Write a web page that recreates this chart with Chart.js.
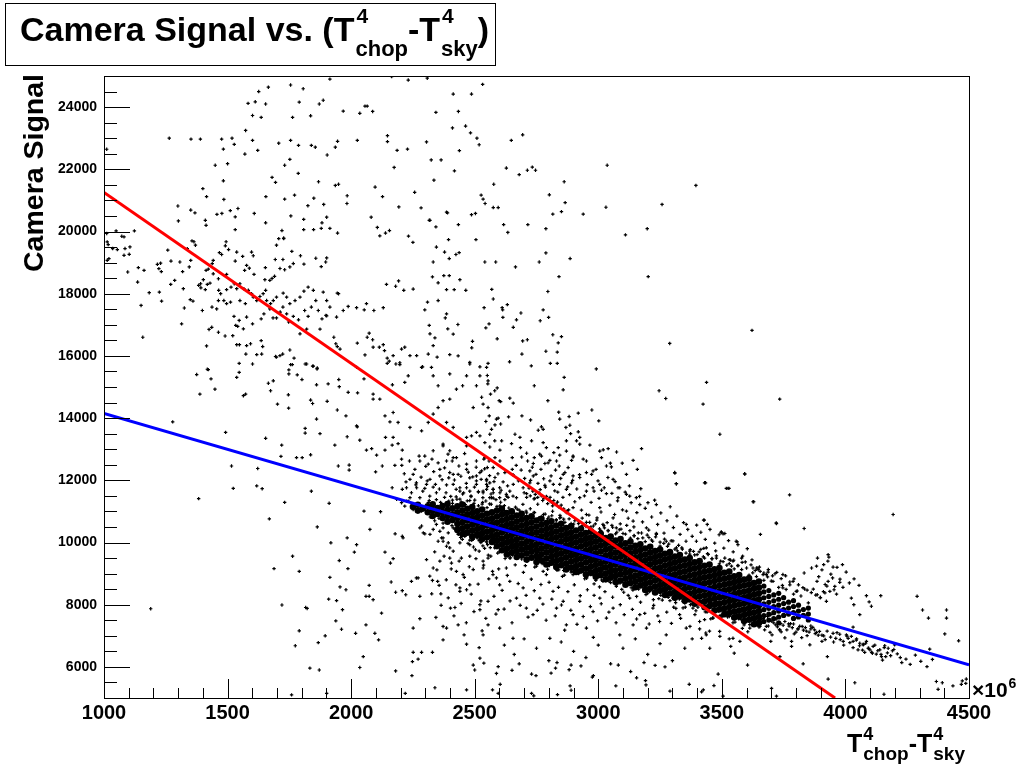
<!DOCTYPE html>
<html><head><meta charset="utf-8">
<script src="https://cdn.jsdelivr.net/npm/chart.js@4.4.1/dist/chart.umd.min.js"></script>
<style>html,body{margin:0;padding:0;background:#fff;}canvas{display:block;}</style>
</head><body>
<canvas id="c" width="1021" height="769" style="width:1021px;height:769px"></canvas>
<script>
// ---- axes ----
const xTicks = [1000,1500,2000,2500,3000,3500,4000,4500];
const yTicks = [6000,8000,10000,12000,14000,16000,18000,20000,22000,24000];
const xMinorStep = 100, yMinorStep = 500;
// ---- fits ----
const redFitX = [1000, 3958], redFitY = [21258, 5000];
const blueFitX = [1000, 4500], blueFitY = [14148, 6065];
// ---- scatter points (x, camera signal) ----
const leftEdgePts = [[1011,19935],[1049,20019],[1072,19848],[1081,19826],[1123,20019],[1013,19665],[1017,19580],[1035,19451],[1054,19419],[1085,19451],[1105,19503],[1081,19235],[1102,19267],[1013,19074],[1020,19129],[1096,18697],[1139,18838],[1162,18751],[1216,18945],[1222,18806],[1136,18374],[1183,18032],[1224,18051],[1150,17622],[1157,16600],[1011,22645],[1189,7870]];
const upperPts = [[1665,24640],[1755,24710],[1806,24590],[1626,24500],[1914,24900],[2164,24980],[2231,24870],[2308,24930],[2532,24730],[2413,24420],[2487,24420],[1583,24120],[1612,24170],[1654,24100],[1790,24160],[1871,24100],[1887,24220],[1601,23730],[1636,23670],[1763,23670],[1836,23720],[1968,23870],[2035,23800],[2056,24030],[2065,24030],[2087,23860],[2343,23830],[2434,23860],
[1573,23250],[1264,23000],[1352,22970],[1390,22970],[1476,22970],[1518,23000],[1527,22800],[1601,22930],[1622,22610],[1570,22490],[1483,22650],[1707,22840],[1755,22930],[1787,22770],[1839,22770],[1855,22710],[1903,22460],[1936,22710],[1945,22900],[2025,22930],[2147,23080],[2147,22890],[2186,22610],[2228,22650],[2305,22880],[2410,23330],[2463,23390],[2483,23170],[2509,23000],[2518,22790],[2438,22600],[2324,22300],[2364,22300],[2418,21950],[2335,21650],[2174,22060],[2257,21260],
[1752,22320],[1731,22130],[1680,21740],[1694,21580],[1786,21870],[1450,22130],[1500,22180],[1400,21380],[1415,21120],[1483,21630],[1485,21030],[1655,21120],[1731,21040],[1771,21170],[1868,21600],[1849,21070],[1936,21480],[1949,21520],[1984,21150],[1983,20900],[2097,21430],[2127,21120],[2193,20790],[2283,20760],[2316,20360],[2343,20150],[2386,20620],[2390,20600],[2434,20220],[2487,20540],[2503,20580],[2526,21170],[2534,21040],[2542,20900],[2577,21520],[2575,20770],[2595,20770],[2505,19740],[2541,19020],[2585,19020]];
const midLeftPts = [[1299,20820],[1301,20340],[1351,20690],[1368,20600],[1410,20360],[1413,20200],[1457,20550],[1477,20580],[1511,20670],[1542,20740],[1531,20470],[1531,20060],[1608,20580],[1654,20280],[1720,20030],[1727,19770],[1808,20060],[1848,20060],[1879,20100],[1914,20100],[1945,19950],[1901,20460],[1882,20280],[1808,20390],[1756,20500],[1825,20830],[1889,20870],[2081,20460],[2106,20130],[2116,19860],[2139,19950],[2155,20030],[2232,19850],[2250,19650],[2319,20360],[2345,19500],[2394,19740],[2437,19320],[2424,19260],[2378,19340],[2332,19020],[2397,19130],[2329,18540],[2352,18350],[2375,18580],[2397,18580],[2440,18450],[2386,18130],[2417,18130],[2464,18110],[2569,18140],[2575,17830],[2538,17550],[2558,17030],[2545,16900],[2591,16550],[2491,16470],[2488,16260],[2480,15740],[2521,15650],[2554,15760]];
const leftCloudPts = [[1233,17760],[1229,18980],[1232,18710],[1270,18300],[1286,18430],[1271,19050],[1307,19020],[1258,19400],[1318,18710],[1314,17030],[1325,17540],[1345,18860],[1351,19070],[1356,19700],[1364,19670],[1370,19560],[1337,19450],[1349,17810],[1321,18160],[1391,18320],[1392,18190],[1402,18450],[1410,18130],[1383,18270],[1418,18300],[1429,18340],[1413,18750],[1422,18790],[1442,19070],[1438,18970],[1467,19320],[1476,19260],[1494,19670],[1491,19540],[1504,19420],[1531,19050],[1537,19340],[1561,19200],[1577,18910],[1597,19340],[1604,19220],[1569,18750],[1588,18820],[1607,18620],[1653,18840],[1651,18450],[1671,18430],[1680,18490],[1690,18560],[1712,18810],[1731,18770],[1752,18860],[1766,18970],[1724,19100],[1693,19100],[1698,19560],[1707,19770],[1727,19790],[1760,19360],[1795,19220],[1809,18950],[1857,19140],[1879,18870],[1897,19020],[1901,19150],
[1442,18640],[1463,18480],[1496,18620],[1464,18110],[1496,18130],[1514,18210],[1527,18320],[1537,18160],[1550,18320],[1566,18160],[1584,18110],[1597,18000],[1604,17890],[1618,17780],[1631,17910],[1644,18000],[1654,18110],[1658,17780],[1674,17680],[1685,17780],[1698,17890],[1725,18020],[1739,17890],[1752,17680],[1773,17780],[1793,17890],[1809,18080],[1826,18210],[1847,18110],[1857,17780],[1887,18050],[1901,17780],[1944,18020],[1949,18000],
[1360,17760],[1398,17460],[1437,17570],[1456,17510],[1463,17780],[1472,18000],[1485,17780],[1496,17680],[1512,17730],[1550,17780],[1572,17680],[1577,17250],[1547,17140],[1526,17270],[1533,16980],[1541,16950],[1564,16870],[1601,17030],[1636,17190],[1647,17350],[1671,17510],[1684,17220],[1698,17220],[1713,17410],[1724,17570],[1739,17350],[1747,17090],[1766,17270],[1787,17160],[1812,17460],[1826,17270],[1839,17570],[1867,17460],[1882,17190],[1898,17300],[1914,17570],[1941,17250],[1968,17460],[1988,17590],[2022,17550],[2053,17480],[2062,17680],[2092,17460],[2130,17550],[2143,18300],[2180,18240],[2192,18410],[2213,18110],[2251,18150],[2298,17480],[2309,17730],[2352,17780],[2386,17350],[2381,17220],[2391,16870],[2316,16980],[2319,16710],[2339,16580],[2413,16700],[2432,17010],
[1415,16320],[1425,16850],[1436,16920],[1463,16760],[1490,16640],[1521,16650],[1537,16360],[1548,16360],[1577,16330],[1593,16390],[1574,16060],[1618,16040],[1638,16060],[1636,16490],[1642,16300],[1694,15980],[1712,16010],[1723,16060],[1752,16190],[1769,15930],[1793,16710],[1820,16860],[1874,16860],[1901,17290],[1930,16600],[1938,16390],[1944,16300],[1955,16220],[2025,16410],[2056,16030],[2065,16600],[2073,16730],[2087,16520],[2089,16280],[2114,16280],[2130,16360],[2135,16170],[2146,15930],[2170,16010],[2181,15740],[2197,15720],[2204,16220],[2217,16280],[2238,16010],[2265,16010],[2289,15650],[2312,16060],[2332,16330],[2348,15960],[2399,16040],[2433,16000],[2480,15790],[1601,15740],[1547,15760],[1418,15570],[1698,15960],[1755,15720],[1814,15740],[1847,15670],[1863,15610],[2022,15630],[2146,15760],[2154,15830],[2197,15780],[2325,15630]];
const upperRightPts = [[2648,22930],[2694,23110],[2628,22040],[2680,21830],[2713,21970],[2733,22070],[2746,21970],[3036,22130],[2862,21600],[3395,21480],[2802,21180],[2866,20930],[2816,20560],[2851,20640],[2939,20560],[3031,20780],[3258,20870],[2617,20220],[2715,20220],[2634,19970],[2788,20090],[3110,19890],[3198,20090],[2788,19310],[2761,19020],[2886,19130],[2665,18860],[2841,18550],[3202,18550],[2796,18070],[2632,17650],[2611,17550],[2613,17480],[2614,17240],[2687,17380],[2669,17160],[2656,16920],[2777,17480],[2765,17130],[2799,17240],[2816,16680],[2851,16620],[2838,16420],[2694,16480],[2713,16520],[2691,16060],[2788,16150],[2834,16120],[2641,15810],[2729,15680],[2806,15760],[2834,15760],[2992,15580],[3622,16820],[3289,16400]];
const midPts = [[2551,15370],[2591,14970],[2553,15100],[2564,14770],[2642,14640],[2656,14480],[2599,14560],[2605,14530],[2528,14670],[2534,14450],[2741,15040],[2858,14910],[2862,15310],[2796,14560],[2840,14190],[2844,13970],[2882,14050],[2919,14160],[2974,14260],[3002,13910],[2691,14070],[2726,13940],[2637,14040],[2595,14000],[2559,14070],[2545,13890],[2582,13780],[2605,13810],[2568,13640],[2770,13720],[2777,13640],[2757,13610],[2885,13770],[2869,13700],[2888,13500],[2919,13560],[2925,13380],[2912,13270],[2871,13270],[2966,13130],[3020,12980],[3040,13020],[3074,12910],[3175,13020],[3013,12730],[2991,12350],[3141,12640],[3097,12550],[3049,12550],[3053,12430],[3039,12090],[3068,11960],[3114,12190],[3158,12350],[3126,11820],[3172,11730],[3080,11760],[3114,11550],[3154,11440],[3310,12230],[3316,11890],[3434,11920],[3518,11740],[3529,11740],[3593,12200],[3734,14610],[3438,15150],[3246,14880],[3273,14630],[3424,14450],[3492,13480],[2838,13050],[2820,12890],[2844,12810],[2898,12750],[2892,12640],[2939,12680],[2804,12640],[2784,12540],[2737,12540],[2723,12300],[2690,12750],[2710,12870],[2770,12780],[2741,12730],[2652,12730],[2652,12350],[2602,12620],[2582,12730],[2622,12250],[2582,12090],[2561,11920],[2842,12460],[2878,12410],[2858,12190],[2898,12140],[2925,12090],[2892,11920],[2871,11710],[2844,11870],[2952,12250],[2973,12190],[2999,11980],[2979,11760],[3013,11680],[3033,11570],[3080,11440],[2804,11980],[2784,11840],[2824,11660],[2737,12140],[2723,11920],[2696,11760],[2656,11870],[2683,13380],[2649,13180],[2609,13270],[2561,13070],[2541,13210],[2663,13480],[2730,13270],[2777,13210],[2685,13050],[2602,12970],[2537,12680],[2551,12410],[2528,12300],[2548,11980],[2575,11710],[2602,11600],[2629,11490],[2669,11440],[2710,11570],[2743,11420],[2534,11600],[2568,11440]];
const lowerLeftPts = [[1375,15400],[1422,15560],[1433,15260],[1449,14930],[1388,14770],[1537,15310],[1547,15470],[1573,14770],[1564,14720],[1665,15120],[1685,15200],[1674,14880],[1702,14450],[1762,15720],[1748,15550],[1748,15420],[1782,15390],[1801,15240],[1820,15740],[1844,15670],[1862,15580],[1860,15070],[1907,15100],[1950,15240],[1952,15010],[1988,14830],[2026,14810],[1746,14750],[1747,14320],[1836,14580],[1844,14470],[1903,14540],[1944,14260],[1979,14070],[2022,13750],[2025,13720],[1860,13970],[1814,13670],[1814,13520],[1874,13500],[1984,13400],[2035,13290],[1934,13130],[2062,12970],[2083,13020],[2103,12810],[2137,12970],[2166,13130],[2190,13180],[2207,12970],[2139,13380],[2170,13380],[2126,12460],[2099,12270],[2177,12480],[2204,12680],[2052,15260],[2089,14610],[2116,14610],[2137,14070],[2157,13880],[2170,14180],[2190,13860],[2238,13700],[2285,13590],[2312,13860],[2332,14130],[2352,14340],[2372,14560],[2399,14610],[2426,14930],[2451,15040],[2467,15360],[2521,15360],[2548,15630],[2507,15040],[2554,15200],[2581,14880],[2285,15630],[2231,15360],[2217,15150],[2167,15070],[2089,14770],[2332,15360],[2399,15420],[2352,15040],[2386,13860],[2413,13700],[2467,13380],[2487,13430],[2507,13540],[2467,13110],[2399,12950],[2372,13160],[2332,12950],[2298,12780],[2278,12620],[2312,12520],[2386,12620],[2426,12730],[2467,12520],[2507,12620],[2541,12730],[2575,12410],[2507,12140],[2548,12030],[2413,12190],[2359,12140],[2319,12030],[2251,12190],[2238,12030],[2224,11760],[2265,11760],[2298,11740],[2332,11780],[2386,11850],[2440,11760],[2480,11650],[2507,11870],[2548,11710],[2575,11600],[2521,13430],[2561,13480],[2494,14340],[2554,14340],[2588,13970],[2581,13270],[2558,12620],
[1278,13880],[1492,13540],[1516,12460],[1523,11740],[1383,11410],[1618,11820],[1640,11730],[1622,12380],[1654,13350],[1719,13130],[1716,12770],[1779,12730],[1802,12730],[1836,12820],[1948,12460],[1992,12490],[1992,12330],[1839,11650],[1911,11260],[1731,11290],[1669,10760],[1863,10500],[1918,9990],[1984,10150],[2022,9930],[2013,9690],[1763,9560],[1688,9160],[1790,9070],[1952,9420],[1987,9160],[1914,8880],[1955,8570],[1979,8480],[1909,8180],[1941,8130],[1720,7990],[1816,7910],[1822,7880],[2052,11010],[2076,10420],[2119,10990],[2166,11760],[2207,11710],[2238,11440],[2178,10280],[2207,10200],[2137,9690],[2159,9340],[2170,9480],[2073,8620],[2060,8270],[2089,8160],[2162,8730],[2180,8400],[2207,8450],[2221,8320],[2244,8750],[2271,8860],[2329,8780],[2350,8750],[2363,8350],[2402,7890],[2420,7910],[2440,8430],[2467,8480],[2521,7840],[2554,8110],[2595,7840],[2554,7350],[2530,7160],[2278,7550],[2343,7590],[2372,7300],[2386,7250],[2433,7350],[2457,7030],[2467,6730],[2518,6620],[2521,6280],[2494,6060],[2500,5900],[2595,6010],[2588,5790],[2285,6470],[2329,6470],[2251,6470],[2271,6250],[2248,6170],[2246,5720],[2180,5870],[2049,6330],[2035,5980],[1965,7840],[1938,7480],[1961,7210],[2018,7080],[2060,7350],[2096,7080],[2111,6870],[2123,7730],[2073,8270],[1895,7000],[1867,6780],[1790,7160],[1774,6680],[1833,5960],[1871,5900],[2339,5330],[2467,5260],[2572,5260],[2595,5150],[1901,5150],[1759,5100],[2219,5150],[2359,9400],[2406,9340],[2426,9070],[2453,8970],[2494,9130],[2534,9180],[2572,9070],[2588,8860],[2413,9720],[2446,9500],[2480,9560],[2518,9720],[2554,9500],[2352,10040],[2372,10150],[2386,9880],[2440,9990],[2460,10200],[2480,9930],[2521,10100],[2552,9930],[2581,9830],[2332,10420],[2285,10530],[2298,10280],[2319,10260],
[2184,11390],[2204,11280],[2217,11170],[2231,11330],[2251,11060],[2271,11220],[2285,11010],[2298,11120],[2312,11280],[2325,11170],[2278,10470],[2292,10310],[2345,10580],[2359,10360],[2372,10470],[2393,10310],[2413,10470],[2433,10260],[2453,10420],[2473,10260],[2494,10100],[2521,10200],[2548,10040],[2575,10150],[2366,10150],[2393,9990],[2399,9830]];
const centralPts = [[2372,13110],[2392,12840],[2413,12730],[2359,12350],[2399,12250],[2433,12190],[2467,12350],[2480,12080],[2507,11980],[2521,12250],[2548,11870],[2574,11710],[2601,11760],[2628,11550],[2642,11650],[2655,11490],[2601,11440],[2561,11440],[2534,11650],[2467,11760],[2440,11650],[2413,11870],[2305,11870],[2264,11920],[2278,11440],[2318,11490],[2345,11600],[2224,11330],
[2763,12840],[2790,13050],[2831,12620],[2871,12940],[2898,12780],[2925,13160],[2952,12620],[2979,12300],[3006,12940],[3033,12460],[3060,12030],[3087,11760],[3127,11490],[3168,11220],[3201,11280],[3235,11220],[3006,11870],[2952,11650],[2925,11440],[2898,11120],[2871,10960],[2844,10790],[2952,10900],[3006,11120],[3060,10790],[3114,11010],[3141,10690],[3195,10470],[3235,10260],[3073,10470],[3019,10580],[3309,12250],[3316,11890],[3430,11920],[3525,11740],[3592,12210],[3626,11310],[3720,10630],[3774,11530],[3558,10040],[3498,10340],[3505,10280],[3426,10720],[3356,10580],[3397,10040],[3478,9500],[3275,10040],[3316,9830],[3370,9720],[3437,9830],[3545,9400],[3626,9180],[3646,9180],[3680,8970],[3747,8540],[3801,8430],[3747,8970],[3707,8750],[3788,8750],
[2720,11750],[2735,11650],[2745,11550],[2760,11600],[2770,11500],[2780,11420],[2790,11480],[2800,11380],[2810,11300],[2820,11350],[2830,11230],[2840,11150],[2850,11200],[2860,11080],[2870,11000],[2880,11050],[2755,11450],[2775,11350],[2795,11250],[2815,11180],[2740,11400],[2725,11500],[2765,11700],[2805,11450],[2835,11300],[2700,11600],[2710,11450]];
const lowerPts = [[2210,10150],[2264,8860],[2332,9180],[2372,10040],[2399,9500],[2440,8540],[2480,8640],[2534,9400],[2574,8970],[2251,7250],[2372,6870],[2278,8270],[2534,7030],[2521,8000],
[2601,8640],[2628,9180],[2642,8750],[2669,8210],[2696,8540],[2709,7890],[2736,7680],[2763,8210],[2790,8970],[2817,8430],[2831,7890],[2858,8110],[2871,7350],[2898,7680],[2925,8110],[2952,7250],[2979,7780],[3006,8210],[3033,7570],[3060,7890],[3087,7030],[3127,8210],[3141,7350],[3168,7680],[3195,7250],[3221,7890],[3248,7460],[3275,7030],[3302,8210],[3329,7680],[3356,7250],[3383,7890],[3410,7460],[3437,7030],[3464,7570],[3491,7140],[3518,7680],[3545,6920],[2601,7250],[2655,6920],[2804,6920],
[2628,9720],[2669,9560],[2709,9400],[2750,9240],[2777,9070],[2831,9180],[2898,8970],[2952,8860],[3019,8750],[3073,8640],[3141,8540],[3208,8430],[3275,8320],[3343,8110],[2642,9500],
[2620,6700],[2660,6400],[2700,6900],[2750,6600],[2800,6200],[2850,6800],[2900,6500],[2950,6300],[3000,6700],[3050,6100],[3100,6600],[3150,6900],[3200,6400],[3250,6750],[3300,6200],[3350,6600],[3380,6900],[2680,6100],[2980,6950],[3230,6050],
[2800,9300],[2830,9200],[2860,9100],[2890,9050],[2920,9000],[2850,9350],[2815,9420],[2870,9250],[2900,9180],[2940,9100],[2780,9400],[2760,9500]];
const rightPts = [[3629,11310],[4193,10900],[3429,10720],[3441,10580],[3497,10320],[3512,10290],[3721,10610],[3833,10450],[3656,10260],[3562,10020],[3427,9810],[3580,9500],[3539,9240],[3530,9450],[3640,9180],[3647,9130],[3687,9050],[3667,8970],[3833,9020],[3863,9180],[3883,9240],[3887,9500],[3930,9610],[3933,9530],[3912,9290],[3950,9210],[3988,9290],[3930,8750],[3948,8860],[3977,8720],[3957,8590],[3937,8430],[3964,8340],[3917,8380],[3923,8110],[3886,8320],[4035,8830],[4055,8620],[4024,8210],[4034,8000],[4085,8290],[4096,8090],[4105,7950],[4143,8290],[4058,7680],[4031,7280],[4290,8270],[4312,7830],[4336,7570],[4409,7830],[4409,7570],[4402,7060],[4458,6840],[4341,6570],[4228,6140],[4199,6710],[4159,6680],[4146,6330],[4163,6330],[4150,6220],[4109,6440],[4092,6600],[4072,6710],[4058,6760],[4085,6820],[4045,6900],[4024,6980],[4004,7030],[3977,7050],[3961,6920],[3991,6820],[3927,6330],[3829,6100],[3930,5610],[4038,5490],[4156,5120],[3721,5060],[3701,5310],[3604,6060],[3485,5770],[3468,5400],[3505,5060],[3418,5200],[4368,5530],[4392,5490],[4375,5280],[4435,5390],[4473,5550],[4489,5610],[4487,5470],[4469,5440],[3698,6820],[3782,6660],[3782,6820],[3735,6330],[3856,6710],[3550,6440],[3573,6820],[3536,6660],[3451,6600],[3435,7090],[3418,6920],[3492,6980],[3530,6900],[3698,7680],[3613,7250],[3654,7300],[3735,7190],[3950,7080],[4011,6920],[4031,6820],[4072,6730],[4099,6550],[4112,6660],[4139,6550],[4173,6600],[4190,6520],[4125,6410],[4078,6470],[4051,6550],
[3905,7020],[3918,6880],[3926,7150],[3940,6960],[3952,6800],[3966,7100],[3979,6880],[3993,6700],[4006,6990],[4018,6780],[4031,6620],[4044,6860],[4057,6680],[4069,6540],[4082,6760],[4094,6600],[4106,6470],[4119,6700],[4131,6520],[4144,6400],[4157,6620],[4170,6450],[4183,6360],[4196,6560],[4210,6420],[4222,6300],[3892,8900],[3905,9120],[3918,8650],[3929,9400],[3941,8980],[3954,8480],[3966,9200],[3978,8820],[3990,8560],[4003,9050],[4016,8700],[3870,8500],[3885,8750],[3899,8230],[3911,8420],[3925,8600],[4245,6250],[4262,6080],[4283,6380],[4305,6180],[4330,6010],[4352,6240]];
const bottomPts = [[2537,6120],[2651,5890],[2730,5770],[2748,5720],[2809,5800],[2827,5960],[2833,6140],[2882,5910],[2890,6060],[2603,5440],[2730,5150],[2739,5070],[2835,5110],[2886,5390],[2890,5250],[2930,6030],[3081,6060],[3185,6140],[3270,6000],[3131,5850],[3155,5650],[3191,5560],[3193,5420],[2980,5720],[2976,5670],[3071,5390],[3290,5220],[3368,5440],[3425,5260]];
const fillMidPts = [[2205,12480],[2215,12210],[2222,11950],[2236,12620],[2244,11600],[2258,12350],[2262,11850],[2275,12780],[2283,12100],[2290,11650],[2302,12450],[2308,11980],[2316,11350],[2327,12680],[2334,12280],[2341,11870],[2352,12560],[2357,11720],[2368,12020],[2378,12400],[2384,11600],[2395,12080],[2403,11480],[2409,12620],[2418,12010],[2425,11710],[2436,12460],[2444,12130],[2451,11560],[2459,12860],[2466,11900],[2474,12260],[2485,11500],[2492,12110],[2499,11780],[2506,12420],[2515,11620],[2526,12030],[2533,11440],[2540,12370],[2552,11800],[2560,12150],[2566,11560],[2578,11960],[2586,11380],[2594,12210],[2607,11680],[2615,11950],[2622,11380],[2633,11820],
[2655,12180],[2668,12480],[2677,11980],[2688,12330],[2702,12060],[2714,12620],[2726,12000],[2733,12420],[2748,12190],[2756,11900],[2768,12350],[2779,12050],[2786,11780],[2797,12560],[2809,12140],[2818,11870],[2827,12330],[2836,11620],[2848,12060],[2857,11450],[2865,12250],[2876,11790],[2884,11540],[2896,12000],[2905,11310],[2913,11720],[2924,12180],[2932,11040],[2944,11500],[2955,11860],[2962,10880],[2971,11290],[2983,11650],[2994,10720],[3003,11420],[3011,10980],[3024,11760],[3036,10640],[3047,11200],[3055,11580],[3066,10900],[3078,11340],[3089,10600],[3098,11050],[3109,11620],[3121,10780],[3133,11280],[3144,10500],[3156,10960],[3167,11480],[3179,10660],[3190,11100],[3204,10400],[3216,10820],[3228,11360],[3240,10580],[3253,10950],[3266,10300],[3278,10700],[3291,11150],[3304,10480],[3318,10850],[3331,10260],[3345,10640],[3362,10420],[3380,10200],[3398,10560],[3415,10330],[3433,10100],[3452,10420],[3471,9980],[3489,10250],[3508,9820],[3527,10060],[3546,9700],[3565,9930],[3584,9560],[3603,9800],[3622,9440]];
const fillLowPts = [[2305,9450],[2318,8920],[2326,8350],[2338,9700],[2347,9120],[2356,8620],[2364,7980],[2376,9560],[2385,8800],[2393,8220],[2405,9150],[2416,7640],[2424,8640],[2437,9400],[2445,8040],[2458,8880],[2466,7420],[2478,9220],[2486,8340],[2497,7780],[2505,9480],[2514,8660],[2525,8120],[2536,9270],[2545,7560],[2557,8830],[2565,9560],[2578,8270],[2586,7700],[2597,9150],[2611,8460],[2619,7860],[2632,8940],[2643,8120],[2651,7420],[2664,9280],[2676,8680],[2684,7980],[2697,9040],[2708,8300],[2716,7600],[2729,8820],[2741,8450],[2753,7820],[2768,8650],[2776,8020],[2789,7500],[2801,8720],[2812,8180],[2826,7640],[2839,8560],[2851,7990],[2864,7180],[2877,8420],[2889,7820],[2903,8640],[2914,7370],[2927,8290],[2939,7620],[2956,8480],[2968,7940],[2983,8300],[2997,7480],[3012,8030],[3027,8420],[3043,7760],[3058,8240],[3072,7420],[3089,8000],[3105,7680],[3121,8300],[3138,7850],[3155,7540],[3171,8080],[3188,7720],[3206,7380],[3224,7980],[3241,7640],[3259,8150],[3277,7760],[3296,7400],[3314,7880],[3333,7560],[3352,7920],[3371,7300],[3391,7680],[3410,7220],[3430,7520],[3450,7150]];
const bandEdgePts = [[2345,11380],[2362,11290],[2378,11450],[2395,11330],[2410,11260],[2428,11390],[2445,11300],[2462,11220],[2480,11350],[2497,11260],[2515,11180],[2532,11290],[2550,11120],[2567,11230],[2585,11060],[2602,11180],[2620,11020],[2638,11110],[2655,10960],[2672,11070],[2690,10900],[2708,11010],[2725,10850],[2742,10960],[2760,10800],[2778,10900],[2795,10760],[2812,10860],[2830,10700],[2848,10810],[2865,10650],[2882,10760],[2900,10590],[2918,10700],[2935,10540],[2952,10650],[2970,10500],[2988,10600],[3005,10440],[3022,10540],[3040,10390],[3058,10490],[3075,10330],[3092,10430],[3110,10270],[3128,10380],[3145,10210],[3162,10310],[3180,10150],[3198,10240],[3215,10080],[3232,10180],[3250,10010],[3268,10110],[3285,9950],[3302,10050],[3320,9730],[3338,9830],[3355,9660],[3372,9770],[3390,9600],[3408,9700],[3425,9540],[3442,9640],[3460,9470],[3478,9570],[3495,9400],[3512,9500],[3530,9320],[3548,9430],[3565,9250],[3582,9360],[3600,9180],[3618,9280],[3635,9100],[3652,9210],[3670,9020],[3688,9130],[3705,8930],[3722,9040],[3740,8840],[3758,8930],[3775,8730],[3792,8830],[3810,8640],[3828,8550],[3845,8470],[3862,8390],[3880,8310],[3898,8230],
[2320,10820],[2338,10700],[2355,10780],[2372,10620],[2390,10700],[2408,10540],[2425,10620],[2442,10450],[2460,10530],[2478,10360],[2495,10430],[2512,10280],[2530,10360],[2548,10200],[2565,10280],[2582,10120],[2600,10200],[2618,10040],[2635,10110],[2652,9960],[2670,10030],[2688,9880],[2705,9950],[2722,9800],[2740,9870],[2758,9720],[2775,9790],[2792,9640],[2810,9710],[2828,9560],[2845,9630],[2862,9480],[2880,9550],[2898,9400],[2915,9470],[2932,9320],[2950,9390],[2968,9240],[2985,9310],[3002,9160],[3020,9230],[3038,9080],[3055,9150],[3072,9000],[3090,9070],[3108,8920],[3125,8990],[3142,8840],[3160,8910],[3178,8770],[3195,8840],[3212,8700],[3230,8770],[3248,8630],[3265,8700],[3282,8560],[3300,8630],[3318,8340],[3335,8410],[3352,8270],[3370,8340],[3388,8190],[3405,8260],[3422,8110],[3440,8180],[3458,8030],[3475,8100],[3492,7950],[3510,8020],[3528,7870],[3545,7940],[3562,7790],[3580,7860],[3598,7710],[3615,7780],[3632,7630],[3650,7700],[3668,7550],[3685,7620],[3702,7470],[3720,7540],[3738,7390],[3755,7460],[3772,7310],[3790,7380],[3808,7230],[3825,7300],[3842,7150],[3860,7220],[3878,7070],[3895,7140],[3912,7000]];
const bandUpperFuzz = [[2410,11360],[2425,11470],[2440,11395],[2455,11595],[2470,11340],[2485,11475],[2500,11365],[2515,11640],[2530,11235],[2545,11335],[2560,11240],[2575,11430],[2590,11160],[2605,11295],[2620,11185],[2635,11450],[2650,11035],[2665,11135],[2680,11040],[2695,11225],[2710,10950],[2725,11085],[2740,10970],[2755,11230],[2770,10825],[2785,10915],[2800,10820],[2815,11005],[2830,10735],[2845,10870],[2860,10750],[2875,11015],[2890,10610],[2905,10700],[2920,10605],[2935,10785],[2950,10515],[2965,10650],[2980,10530],[2995,10790],[3010,10380],[3025,10470],[3040,10370],[3055,10550],[3070,10280],[3085,10410],[3100,10290],[3115,10550],[3130,10140],[3145,10225],[3160,10125],[3175,10305],[3190,10030],[3205,10160],[3220,10040],[3235,10295],[3250,9885],[3265,9975],[3280,9875],[3295,10055],[3310,9785],[3325,9910],[3340,9785],[3355,10040],[3370,9625],[3385,9715],[3400,9610],[3415,9780],[3430,9500],[3445,9615],[3460,9485],[3475,9730],[3490,9310],[3505,9385],[3520,9270],[3535,9435],[3550,9150],[3565,9265],[3580,9130],[3595,9375],[3610,8950],[3625,9025],[3640,8905],[3655,9070],[3670,8785],[3685,8895],[3700,8760],[3715,8995],[3730,8555],[3745,8620],[3760,8490],[3775,8640],[3790,8340],[3805,8440],[3820,8280],[3835,8505],[3850,8060]];
const bandLowerFuzz = [[2420,10430],[2435,10275],[2450,10100],[2465,10240],[2480,10075],[2495,9855],[2510,10140],[2525,9995],[2540,9810],[2555,9595],[2570,10020],[2585,9870],[2600,9700],[2615,9860],[2630,9710],[2645,9510],[2660,9790],[2675,9650],[2690,9470],[2705,9255],[2720,9680],[2735,9530],[2750,9360],[2765,9510],[2780,9350],[2795,9140],[2810,9430],[2825,9280],[2840,9120],[2855,8910],[2870,9345],[2885,9195],[2900,9050],[2915,9200],[2930,9045],[2945,8835],[2960,9120],[2975,8970],[2990,8785],[3005,8570],[3020,9000],[3035,8865],[3050,8710],[3065,8860],[3080,8700],[3095,8490],[3110,8780],[3125,8650],[3140,8470],[3155,8265],[3170,8680],[3185,8540],[3200,8370],[3215,8535],[3230,8390],[3245,8195],[3260,8490],[3275,8345],[3290,8130],[3305,7920],[3320,8350],[3335,8210],[3350,8050],[3365,8195],[3380,8025],[3395,7805],[3410,8090],[3425,7945],[3440,7760],[3455,7545],[3470,7950],[3485,7790],[3500,7610],[3515,7770],[3530,7620],[3545,7420],[3560,7700],[3575,7545],[3590,7350],[3605,7130],[3620,7570],[3635,7440],[3650,7285],[3665,7450],[3680,7305],[3695,7110],[3710,7415],[3725,7290],[3740,7125],[3755,6935],[3770,7385],[3785,7260],[3800,7120],[3815,7305],[3830,7180],[3845,7005],[3860,7315],[3875,7190],[3890,7020],[3905,6820],
[2428,10350],[2443,10160],[2458,10325],[2473,9970],[2488,10070],[2503,9765],[2518,10060],[2533,9890],[2548,10010],[2563,9835],[2578,10010],[2593,9660],[2608,9775],[2623,9485],[2638,9785],[2653,9600],[2668,9735],[2683,9565],[2698,9745],[2713,9400],[2728,9510],[2743,9210],[2758,9500],[2773,9320],[2788,9440],[2803,9260],[2818,9440],[2833,9105],[2848,9235],[2863,8950],[2878,9245],[2893,9070],[2908,9210],[2923,9030],[2938,9205],[2953,8860],[2968,8970],[2983,8670],[2998,8965],[3013,8795],[3028,8930],[3043,8760],[3058,8940],[3073,8590],[3088,8700],[3103,8400],[3118,8710],[3133,8545],[3148,8680],[3163,8500],[3178,8675],[3193,8325],[3208,8450],[3223,8160],[3238,8470],[3253,8300],[3268,8430],[3283,8235],[3298,8410],[3313,8065],[3328,8185],[3343,7895],[3358,8190],[3373,8000],[3388,8110],[3403,7920],[3418,8100],[3433,7770],[3448,7875],[3463,7570],[3478,7845],[3493,7655],[3508,7775],[3523,7605],[3538,7785],[3553,7440],[3568,7545],[3583,7240],[3598,7525],[3613,7360],[3628,7500],[3643,7335],[3658,7520],[3673,7190],[3688,7315],[3703,7030],[3718,7350],[3733,7195],[3748,7340],[3763,7190],[3778,7390],[3793,7065],[3808,7210],[3823,6940],[3838,7265],[3853,7120],[3868,7270],[3883,7110]];
// dense core of the band: x columns with the signal values read in each
const coreX = [2250,2270,2290,2310,2330,2350,2370,2390,2410,2430,2450,2470,2490,2510,2530,2550,2570,2590,2610,2630,2650,2670,2690,2710,2730,2750,2770,2790,2810,2830,2850,2870,2890,2910,2930,2950,2970,2990,3010,3030,3050,3070,3090,3110,3130,3150,3170,3190,3210,3230,3250,3270,3290,3310,3330,3350,3370,3390,3410,3430,3450,3470,3490,3510,3530,3550,3570,3590,3610,3630,3650];
const coreY = [[11150],[11025,11215],[11090],[10975,11165],[10850,11040,11230],[10915,11105],[10790,10980,11170],[10665,10855,11045,11235],[10720,10910,11100],
[10405,10595,10785,10975,11165],[10270,10460,10650,10840,11030,11220],[10325,10515,10705,10895,11085],[10190,10380,10570,10760,10950,11140],[10245,10435,10625,10815,11005],[10110,10300,10490,10680,10870,11060],[10165,10355,10545,10735,10925],[10020,10210,10400,10590,10780,10970],[9885,10075,10265,10455,10645,10835,11025],
[9750,9940,10130,10320,10510,10700,10890,11080],[9615,9805,9995,10185,10375,10565,10755,10945],[9670,9860,10050,10240,10430,10620,10810,11000],[9535,9725,9915,10105,10295,10485,10675,10865],[9590,9780,9970,10160,10350,10540,10730,10920],[9455,9645,9835,10025,10215,10405,10595,10785],[9510,9700,9890,10080,10270,10460,10650,10840],[9375,9565,9755,9945,10135,10325,10515,10705],[9430,9620,9810,10000,10190,10380,10570,10760],[9295,9485,9675,9865,10055,10245,10435,10625],
[9350,9540,9730,9920,10110,10300,10490,10680],[9215,9405,9595,9785,9975,10165,10355,10545],[9270,9460,9650,9840,10030,10220,10410,10600],[9135,9325,9515,9705,9895,10085,10275,10465],[9190,9380,9570,9760,9950,10140,10330,10520],[9055,9245,9435,9625,9815,10005,10195,10385],[9110,9300,9490,9680,9870,10060,10250,10440],[8975,9165,9355,9545,9735,9925,10115,10305],[9030,9220,9410,9600,9790,9980,10170,10360],[8895,9085,9275,9465,9655,9845,10035,10225],
[8950,9140,9330,9520,9710,9900,10090,10280],[8815,9005,9195,9385,9575,9765,9955,10145],[8865,9055,9245,9435,9625,9815,10005,10195],[8730,8920,9110,9300,9490,9680,9870,10060],[8780,8970,9160,9350,9540,9730,9920,10110],[8645,8835,9025,9215,9405,9595,9785,9975],[8700,8890,9080,9270,9460,9650,9840,10030],[8560,8750,8940,9130,9320,9510,9700,9890],[8615,8805,8995,9185,9375,9565,9755,9945],[8475,8665,8855,9045,9235,9425,9615,9805],
[8530,8720,8910,9100,9290,9480,9670,9860],[8395,8585,8775,8965,9155,9345,9535,9725],[8445,8635,8825,9015,9205,9395,9585,9775],[8310,8500,8690,8880,9070,9260,9450,9640],[8360,8550,8740,8930,9120,9310,9500,9690],[8220,8410,8600,8790,8980,9170,9360,9550],[8270,8460,8650,8840,9030,9220,9410,9600],[8125,8315,8505,8695,8885,9075,9265,9455],[8170,8360,8550,8740,8930,9120,9310,9500],[8030,8220,8410,8600,8790,8980,9170,9360],
[8070,8260,8450,8640,8830,9020,9210,9400],[7920,8110,8300,8490,8680,8870,9060,9250],[7960,8150,8340,8530,8720,8910,9100,9290],[7810,8000,8190,8380,8570,8760,8950,9140],[7850,8040,8230,8420,8610,8800,8990,9180],[7695,7885,8075,8265,8455,8645,8835,9025],[7735,7925,8115,8305,8495,8685,8875,9065],[7585,7775,7965,8155,8345,8535,8725,8915],[7625,7815,8005,8195,8385,8575,8765,8955],[7475,7665,7855,8045,8235,8425,8615,8805],[7515,7705,7895,8085,8275,8465,8655,8845],[7370,7560,7750,7940,8130,8320,8510,8700],[7415,7605,7795,7985,8175,8365,8555,8745]];
const coreTailX = [3670,3690,3710,3730,3750,3770,3790,3810,3830,3850];
const coreTailY = [[7460,7650,7840,8030,8220,8410,8600],[7505,7695,7885,8075,8265,8455],[7555,7745,7935,8125,8315],[7415,7605,7795,7985,8175,8365],[7655,7845,8035,8225],[7700,7890,8080],[7560,7750,7940,8130],[7605,7795,7985],[7655,7845],[7510,7700,7890]];

const FONT = '"Liberation Sans", Arial, Helvetica, sans-serif';
const toXY = arr => arr.map(p => ({x: p[0], y: p[1]}));
const sparse = [].concat(leftEdgePts, upperPts, midLeftPts, leftCloudPts, upperRightPts, midPts, lowerLeftPts, centralPts, lowerPts, rightPts, bottomPts, fillMidPts, fillLowPts, bandEdgePts, bandUpperFuzz, bandLowerFuzz);
const core = coreX.flatMap((x, i) => coreY[i].map(y => ({x, y})));
const coreTail = coreTailX.flatMap((x, i) => coreTailY[i].map(y => ({x, y})));

function rich(ctx, x, y, parts) {
  let cx = x;
  for (const p of parts) {
    if (p.t !== undefined) {
      ctx.font = `bold ${p.s}px ${FONT}`;
      ctx.fillText(p.t, cx, y);
      cx += ctx.measureText(p.t).width;
    } else {
      let w = 0;
      for (const q of p.stack) {
        ctx.font = `bold ${q.s}px ${FONT}`;
        ctx.fillText(q.t, cx + (q.dx || 0), y + q.dy);
        w = Math.max(w, (q.dx || 0) + ctx.measureText(q.t).width);
      }
      cx += w;
    }
  }
  return cx;
}

const decor = {
  id: 'decor',
  beforeDraw(chart) {
    const c = chart.ctx; c.save(); c.fillStyle = '#fff'; c.fillRect(0, 0, chart.width, chart.height); c.restore();
  },
  afterDraw(chart) {
    const ctx = chart.ctx, a = chart.chartArea, xs = chart.scales.x, ys = chart.scales.y;
    const L = Math.round(a.left), R = Math.round(a.right), T = Math.round(a.top), B = Math.round(a.bottom);
    ctx.save();
    ctx.strokeStyle = '#000'; ctx.lineWidth = 1;
    ctx.strokeRect(L + 0.5, T + 0.5, R - L, B - T);
    ctx.beginPath();
    for (let v = xs.min + xMinorStep; v < xs.max; v += xMinorStep) {
      const px = Math.round(xs.getPixelForValue(v)) + 0.5;
      const len = xTicks.includes(v) ? 19 : 10;
      ctx.moveTo(px, B); ctx.lineTo(px, B - len);
    }
    for (let v = ys.min + yMinorStep; v < ys.max; v += yMinorStep) {
      const py = Math.round(ys.getPixelForValue(v)) + 0.5;
      const len = yTicks.includes(v) ? 26 : 13;
      ctx.moveTo(L, py); ctx.lineTo(L + len, py);
    }
    ctx.stroke();
    ctx.fillStyle = '#000'; ctx.textAlign = 'left'; ctx.textBaseline = 'alphabetic';
    const end = rich(ctx, 20, 41, [
      {t: 'Camera Signal vs. (', s: 34}, {t: 'T', s: 34},
      {stack: [{t: '4', s: 21, dy: -18, dx: 2}, {t: 'chop', s: 22, dy: 15, dx: 1}]},
      {t: '-', s: 34}, {t: 'T', s: 34},
      {stack: [{t: '4', s: 21, dy: -18, dx: 2}, {t: 'sky', s: 22, dy: 15, dx: 1}]},
      {t: ')', s: 34}]);
    ctx.strokeRect(5.5, 3.5, Math.round(end) + 6 - 5, 62);
    rich(ctx, 847, 752, [
      {t: 'T', s: 25}, {stack: [{t: '4', s: 18, dy: -12, dx: 1}, {t: 'chop', s: 19, dy: 8, dx: 1}]},
      {t: '-', s: 25}, {t: 'T', s: 25}, {stack: [{t: '4', s: 18, dy: -12, dx: 1}, {t: 'sky', s: 19, dy: 8, dx: 1}]}]);
    rich(ctx, 972, 697, [{t: '\u00d710', s: 21}, {stack: [{t: '6', s: 14, dy: -9, dx: 1}]}]);
    ctx.save();
    ctx.translate(43, 74); ctx.rotate(-Math.PI / 2);
    ctx.textAlign = 'right'; ctx.font = `bold 28.5px ${FONT}`;
    ctx.fillText('Camera Signal', 0, 0);
    ctx.restore();
    ctx.restore();
  }
};

new Chart(document.getElementById('c'), {
  type: 'scatter',
  data: { datasets: [
    {label: 'fit 1', data: redFitX.map((x, i) => ({x, y: redFitY[i]})), showLine: true, borderColor: '#ff0000', borderWidth: 3, pointRadius: 0, order: 0},
    {label: 'fit 2', data: blueFitX.map((x, i) => ({x, y: blueFitY[i]})), showLine: true, borderColor: '#0000ff', borderWidth: 3, pointRadius: 0, order: 0},
    {label: 'points', data: toXY(sparse), pointStyle: 'cross', pointRadius: 1.7, borderColor: '#000', backgroundColor: '#000', borderWidth: 1.2, order: 1},
    {label: 'core', data: core, pointStyle: 'circle', pointRadius: 3.3, backgroundColor: '#000', borderWidth: 0, order: 2},
    {label: 'core tail', data: coreTail, pointStyle: 'circle', pointRadius: 2.6, backgroundColor: '#000', borderWidth: 0, order: 2}
  ]},
  options: {
    responsive: false, animation: false, events: [],
    plugins: {legend: {display: false}, tooltip: {enabled: false}, title: {display: false}},
    layout: {padding: {top: 76, right: 52, bottom: 0, left: 0}},
    scales: {
      x: {type: 'linear', min: 1000, max: 4500,
        afterBuildTicks: s => { s.ticks = xTicks.map(v => ({value: v})); },
        afterFit: s => { s.height = 71; },
        grid: {display: false, drawTicks: false}, border: {display: false},
        ticks: {font: {family: FONT, size: 20, weight: 'bold'}, color: '#000', padding: 3, maxRotation: 0, autoSkip: false, callback: v => String(v)}},
      y: {type: 'linear', min: 5000, max: 25000,
        afterBuildTicks: s => { s.ticks = yTicks.map(v => ({value: v})); },
        afterFit: s => { s.width = 104; },
        grid: {display: false, drawTicks: false}, border: {display: false},
        ticks: {font: {family: FONT, size: 14, weight: 'bold'}, color: '#000', padding: 7, autoSkip: false, callback: v => String(v)}}
    }
  },
  plugins: [decor]
});
</script>
</body></html>
